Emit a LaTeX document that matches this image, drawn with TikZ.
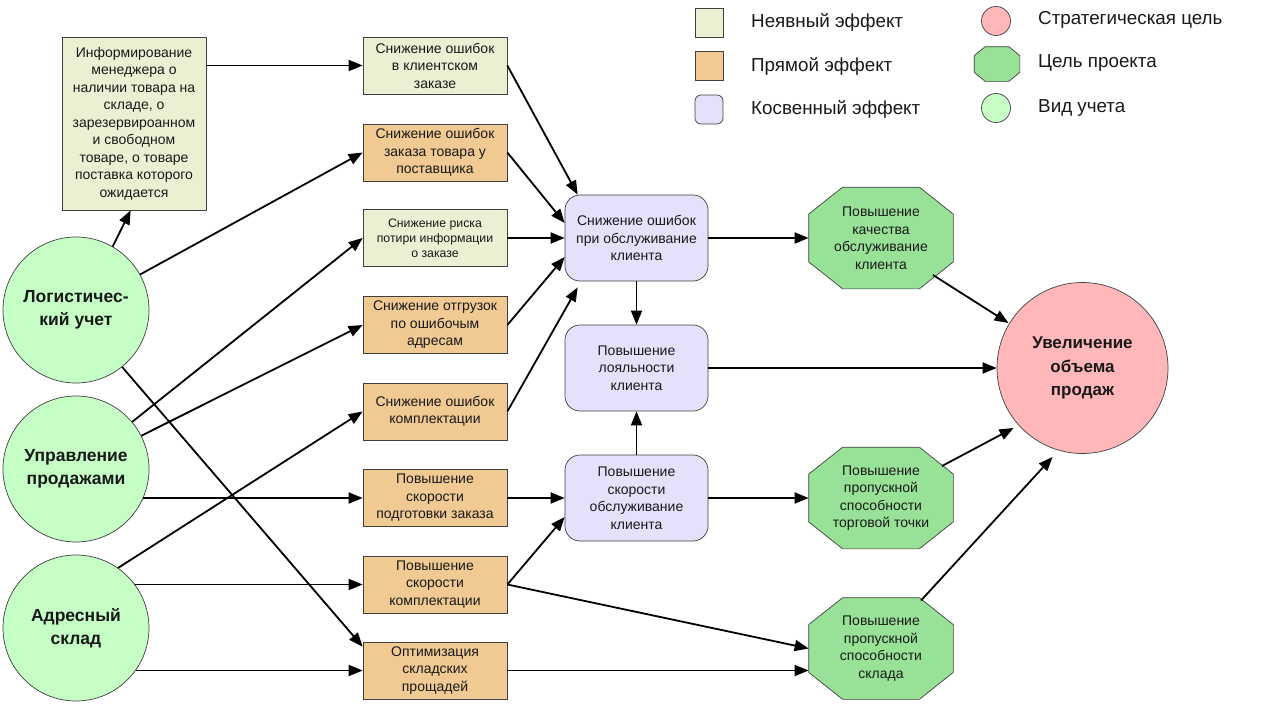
\documentclass[tikz,border=0pt]{standalone}
\usepackage{fontspec}
\setmainfont{Liberation Sans}
\usetikzlibrary{arrows.meta,calc,backgrounds}
\definecolor{cimpl}{RGB}{235,240,210}
\definecolor{cdirect}{RGB}{240,202,146}
\definecolor{cindir}{RGB}{229,225,250}
\definecolor{cgoal}{RGB}{152,226,152}
\definecolor{cacc}{RGB}{198,255,198}
\definecolor{cstrat}{RGB}{255,183,185}
\newcommand\myoct[3]{%
  \filldraw[octfill] ($(#1.north west)+(#2,0)$) -- ($(#1.north east)+(-#2,0)$) -- ($(#1.north east)+(0,#3)$) -- ($(#1.south east)+(0,-#3)$) -- ($(#1.south east)+(-#2,0)$) -- ($(#1.south west)+(#2,0)$) -- ($(#1.south west)+(0,-#3)$) -- ($(#1.north west)+(0,#3)$) -- cycle;}
\tikzset{
  base/.style={draw=black!75, line width=0.7pt, inner sep=0pt, align=center, text=black!90,
    font=\fontsize{14}{17.5}\selectfont},
  implbox/.style={base, fill=cimpl, minimum width=144pt, minimum height=57pt},
  directbox/.style={base, fill=cdirect, minimum width=144pt, minimum height=57pt},
  indirbox/.style={base, fill=cindir, rounded corners=15pt, minimum width=143pt, minimum height=86pt},
  goalnode/.style={base, draw=none, minimum width=144pt, minimum height=101pt},
  octfill/.style={fill=cgoal, draw=black!75, line width=0.7pt},
  accnode/.style={base, circle, fill=cacc, minimum size=146pt, font=\bfseries\fontsize{17.5}{23.5}\selectfont},
  stratnode/.style={base, circle, fill=cstrat, minimum size=171pt, font=\bfseries\fontsize{17}{23.5}\selectfont},
  legtext/.style={anchor=west, inner sep=0pt, font=\fontsize{18.8}{22}\selectfont, text=black!90},
  arr/.style={-{Triangle[length=14pt,width=11pt]}, line width=1.8pt, black}
}
\begin{document}
\begin{tikzpicture}[x=1pt,y=-1pt]
\useasboundingbox (0,0) rectangle (1280,704);
\begin{scope}[on background layer]
\fill[white] (0,0) rectangle (1280,704);
\end{scope}

% legend
\node[implbox, minimum width=28pt, minimum height=29pt] (l1) at (709,22.5) {};
\node[directbox, minimum width=28pt, minimum height=29pt] (l2) at (709,66) {};
\node[indirbox, rounded corners=6pt, minimum width=28pt, minimum height=29pt] (l3) at (709,109.5) {};
\node[legtext] (t1) at (751,22) {Неявный эффект};
\node[legtext] (t2) at (751,66) {Прямой эффект};
\node[legtext] (t3) at (751,109) {Косвенный эффект};
\node[base, circle, fill=cstrat, minimum size=29pt] (l4) at (996,21) {};
\node[goalnode, minimum width=45pt, minimum height=34pt] (l5) at (997,64) {};
\node[base, circle, fill=cacc, minimum size=29pt] (l6) at (996,108) {};
\node[legtext] (t4) at (1038,20) {Стратегическая цель};
\node[legtext] (t5) at (1038,63) {Цель проекта};
\node[legtext] (t6) at (1038,108) {Вид учета};

% left circles
\node[accnode] (log) at (76,310) {Логистичес-\\кий учет};
\node[accnode] (upr) at (76,469) {Управление\\продажами};
\node[accnode] (adr) at (76,628) {Адресный\\склад};

% info box
\node[implbox, minimum height=173pt] (info) at (134,123.5) {Информирование\\менеджера о\\наличии товара на\\складе, о\\зарезервироанном\\и свободном\\товаре, о товаре\\поставка которого\\ожидается};

% column of effects
\node[implbox] (b1) at (435,65.5) {Снижение ошибок\\в клиентском\\заказе};
\node[directbox] (b2) at (435,152.5) {Снижение ошибок\\заказа товара у\\поставщика};
\node[implbox, font=\fontsize{12.3}{15}\selectfont] (b3) at (435,238) {Снижение риска\\потири информации\\о заказе};
\node[directbox] (b4) at (435,325) {Снижение отгрузок\\по ошибочым\\адресам};
\node[directbox] (b5) at (435,411.5) {Снижение ошибок\\комплектации};
\node[directbox] (b6) at (435,498) {Повышение\\скорости\\подготовки заказа};
\node[directbox] (b7) at (435,584.5) {Повышение\\скорости\\комплектации};
\node[directbox] (b8) at (435,670.5) {Оптимизация\\складских\\прощадей};

% indirect effects
\node[indirbox] (r1) at (636.5,238) {Снижение ошибок\\при обслуживание\\клиента};
\node[indirbox] (r2) at (636.5,368) {Повышение\\лояльности\\клиента};
\node[indirbox] (r3) at (636.5,498) {Повышение\\скорости\\обслуживание\\клиента};

% project goals
\node[goalnode] (o1) at (881,238) {Повышение\\качества\\обслуживание\\клиента};
\node[goalnode] (o2) at (881,498) {Повышение\\пропускной\\способности\\торговой точки};
\node[goalnode] (o3) at (881,648.5) {Повышение\\пропускной\\способности\\склада};

% strategic goal
\node[stratnode] (goal) at (1082.5,368) {Увеличение\\объема\\продаж};

\begin{scope}[on background layer]
\myoct{o1}{34}{27}
\myoct{o2}{34}{27}
\myoct{o3}{34}{27}
\myoct{l5}{11}{9}
\end{scope}

% connectors from accounting kinds
\draw[arr] (log.60) -- ($(info.south west)+(69,0)$);
\draw[arr] (b1.west -| info.east) -- (b1.west);
\draw[arr] (log.29) -- (b2.west);
\draw[arr] (log.-51) -- ($(b8.north west)+(0,5)$);
\draw[arr] (upr.40) -- (b3.west);
\draw[arr] (upr.27) -- (b4.west);
\draw[arr] (b6.west -| upr.-24) -- (b6.west);
\draw[arr] (adr.55) -- (b5.west);
\draw[arr] (b7.west -| adr.37) -- (b7.west);
\draw[arr] (b8.west -| adr.-35.6) -- (b8.west);

% effects to indirect effects
\draw[arr] (b1.east) -- ($(r1.north west)+(13,0)$);
\draw[arr] (b2.east) -- ($(r1.west)+(0,-15)$);
\draw[arr] (b3.east) -- (r1.west);
\draw[arr] (b4.east) -- ($(r1.west)+(0,19)$);
\draw[arr] (b5.east) -- ($(r1.south west)+(13,6)$);
\draw[arr] (b6.east) -- (r3.west);
\draw[arr] (b7.east) -- ($(r3.west)+(0,19)$);
\draw[arr] (b7.east) -- (o3.west);
\draw[arr] (b8.east) -- (b8.east -| o3.west);

% indirect to goals
\draw[arr] (r1.east) -- (o1.west);
\draw[arr] (r1.south) -- (r2.north);
\draw[arr] (r3.north) -- (r2.south);
\draw[arr] (r3.east) -- (o2.west);
\draw[arr] (r2.east) -- (goal.west);

% goals to strategic goal
\draw[arr] ($(o1.center)+(52,37)$) -- ($(goal.center)+(-74,-45)$);
\draw[arr] ($(o2.center)+(61,-32)$) -- ($(goal.center)+(-69,60)$);
\draw[arr] ($(o3.center)+(40,-48)$) -- ($(goal.center)+(-30,89)$);
\end{tikzpicture}
\end{document}
